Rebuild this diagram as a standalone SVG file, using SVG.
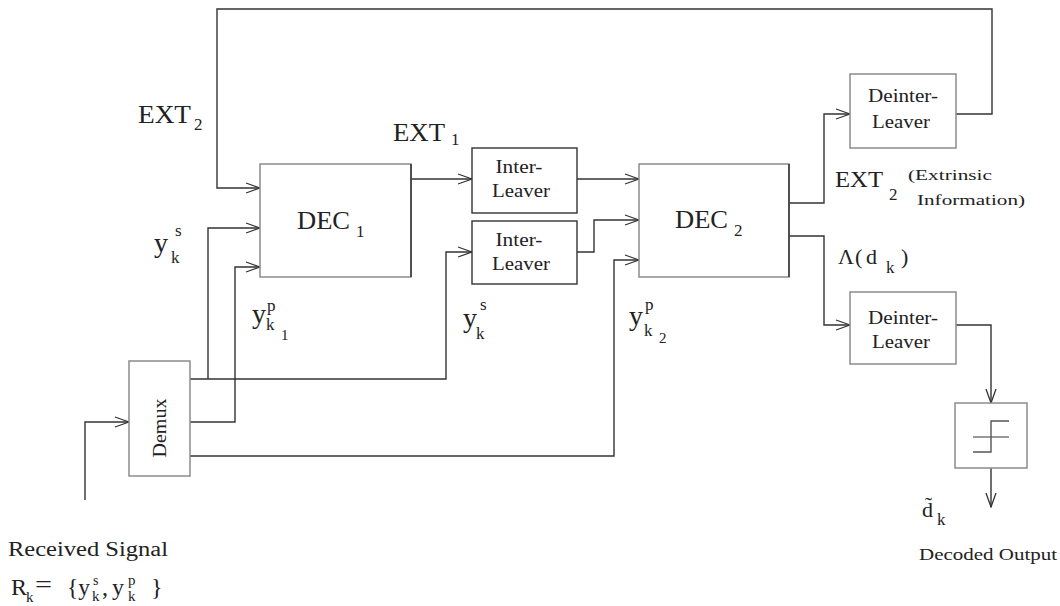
<svg xmlns="http://www.w3.org/2000/svg" width="1060" height="606" viewBox="0 0 1060 606">
<style>
text{font-family:"Liberation Serif","Times New Roman",serif;fill:#222}
.box{fill:#fff;stroke:#8c8c8c;stroke-width:1.5}
.dbox{fill:#fff;stroke:#333;stroke-width:1.4}
.edge{stroke:#333;stroke-width:1.5;fill:none}
.w{fill:none;stroke:#333;stroke-width:1.4}
.big{font-size:26px}
.mid{font-size:19px}
.sub{font-size:17px}
.small{font-size:15px}
</style>
<defs>
<marker id="arr" viewBox="0 0 16 12" refX="15" refY="6" markerWidth="16" markerHeight="12" markerUnits="userSpaceOnUse" orient="auto">
<path d="M1,1 L15,6 L1,11" fill="none" stroke="#333" stroke-width="1.3"/>
</marker>
</defs>
<rect width="1060" height="606" fill="#fff"/>

<g id="connectors">
<polyline class="w" points="956,114 992,114 992,9 217,9 217,188 260,188" marker-end="url(#arr)"/>
<polyline class="w" points="190,379 446,379 446,252 472,252" marker-end="url(#arr)"/>
<polyline class="w" points="208,379 208,228 260,228" marker-end="url(#arr)"/>
<polyline class="w" points="190,422 235,422 235,267 260,267" marker-end="url(#arr)"/>
<polyline class="w" points="190,456 614,456 614,260 639,260" marker-end="url(#arr)"/>
<polyline class="w" points="85,500 85,422 129,422" marker-end="url(#arr)"/>
<polyline class="w" points="411,179 472,179" marker-end="url(#arr)"/>
<polyline class="w" points="577,179 639,179" marker-end="url(#arr)"/>
<polyline class="w" points="577,252 594,252 594,220 639,220" marker-end="url(#arr)"/>
<polyline class="w" points="789,203 824,203 824,114 850,114" marker-end="url(#arr)"/>
<polyline class="w" points="789,236 824,236 824,325 850,325" marker-end="url(#arr)"/>
<polyline class="w" points="956,325 991,325 991,403" marker-end="url(#arr)"/>
<polyline class="w" points="991,468 991,507" marker-end="url(#arr)"/>
</g>

<g id="dec1">
<rect class="box" x="260" y="164" width="151" height="113"/>
<line class="edge" x1="411" y1="164" x2="411" y2="277"/>
<text class="big" x="297" y="229" textLength="53" lengthAdjust="spacingAndGlyphs">DEC</text>
<text class="sub" x="356" y="237">1</text>
</g>

<g id="dec2">
<rect class="box" x="639" y="164" width="150" height="113"/>
<line class="edge" x1="789" y1="164" x2="789" y2="277"/>
<text class="big" x="675" y="228" textLength="53" lengthAdjust="spacingAndGlyphs">DEC</text>
<text class="sub" x="734" y="236">2</text>
</g>

<g id="interleaver1">
<rect class="dbox" x="472" y="148" width="105" height="65"/>
<text class="mid" x="519" y="173" text-anchor="middle" textLength="47" lengthAdjust="spacingAndGlyphs">Inter-</text>
<text class="mid" x="521" y="197" text-anchor="middle" textLength="58" lengthAdjust="spacingAndGlyphs">Leaver</text>
</g>

<g id="interleaver2">
<rect class="dbox" x="472" y="221" width="105" height="63"/>
<text class="mid" x="519" y="246" text-anchor="middle" textLength="47" lengthAdjust="spacingAndGlyphs">Inter-</text>
<text class="mid" x="521" y="270" text-anchor="middle" textLength="58" lengthAdjust="spacingAndGlyphs">Leaver</text>
</g>

<g id="deinterleaver1">
<rect class="box" x="850" y="74" width="106" height="74"/>
<text class="mid" x="903" y="102" text-anchor="middle" textLength="70" lengthAdjust="spacingAndGlyphs">Deinter-</text>
<text class="mid" x="901" y="128" text-anchor="middle" textLength="58" lengthAdjust="spacingAndGlyphs">Leaver</text>
</g>

<g id="deinterleaver2">
<rect class="box" x="850" y="292" width="106" height="72"/>
<text class="mid" x="903" y="324" text-anchor="middle" textLength="70" lengthAdjust="spacingAndGlyphs">Deinter-</text>
<text class="mid" x="901" y="348" text-anchor="middle" textLength="58" lengthAdjust="spacingAndGlyphs">Leaver</text>
</g>

<g id="demux">
<rect class="box" x="129" y="361" width="61" height="115"/>
<text x="0" y="0" font-size="18" text-anchor="middle" textLength="59" lengthAdjust="spacingAndGlyphs" transform="translate(166,428) rotate(-90)">Demux</text>
</g>

<g id="decision">
<rect class="box" x="955" y="403" width="72" height="65"/>
<line x1="973" y1="437" x2="1009" y2="437" stroke="#777" stroke-width="1.4"/>
<polyline points="973,452 991,452 991,421 1009,421" fill="none" stroke="#555" stroke-width="1.4"/>
</g>

<g id="labels">
<text class="big" x="138" y="123" textLength="53" lengthAdjust="spacingAndGlyphs">EXT</text>
<text class="sub" x="194" y="130">2</text>

<text class="big" x="393" y="141" textLength="52" lengthAdjust="spacingAndGlyphs">EXT</text>
<text class="sub" x="451" y="145">1</text>

<text font-size="24" x="835" y="187" textLength="48" lengthAdjust="spacingAndGlyphs">EXT</text>
<text class="sub" x="889" y="200">2</text>
<text class="small" x="908" y="180" textLength="84" lengthAdjust="spacingAndGlyphs">(Extrinsic</text>
<text class="small" x="917" y="205" textLength="108" lengthAdjust="spacingAndGlyphs">Information)</text>

<text font-size="22" x="838" y="264">Λ</text>
<text font-size="22" x="855" y="264">(</text>
<text font-size="22" x="866" y="264">d</text>
<text class="sub" x="886" y="273">k</text>
<text font-size="22" x="901" y="264">)</text>

<text font-size="28" x="154" y="252">y</text>
<text class="sub" x="175" y="236">s</text>
<text class="sub" x="171" y="263">k</text>

<text font-size="28" x="252" y="323">y</text>
<text class="sub" x="267" y="311">p</text>
<text class="sub" x="266" y="330">k</text>
<text font-size="15" x="281" y="340">1</text>

<text font-size="28" x="463" y="327">y</text>
<text class="sub" x="480" y="310">s</text>
<text class="sub" x="476" y="339">k</text>

<text font-size="28" x="629" y="325">y</text>
<text class="sub" x="645" y="310">p</text>
<text class="sub" x="644" y="336">k</text>
<text font-size="15" x="659" y="343">2</text>

<text font-size="22" x="922" y="517">d̃</text>
<text class="sub" x="937" y="525">k</text>
<text font-size="17" x="919" y="560" textLength="138" lengthAdjust="spacingAndGlyphs">Decoded Output</text>

<text font-size="20" x="8" y="556" textLength="160" lengthAdjust="spacingAndGlyphs">Received Signal</text>
<text font-size="24" x="11" y="595">R</text>
<text font-size="15" x="26" y="602">k</text>
<text font-size="24" x="35" y="592" textLength="17" lengthAdjust="spacingAndGlyphs">=</text>
<text font-size="24" x="67" y="595" textLength="23" lengthAdjust="spacingAndGlyphs">{y</text>
<text font-size="14" x="93" y="585">s</text>
<text font-size="15" x="92" y="601">k</text>
<text font-size="24" x="102" y="595">,</text>
<text font-size="24" x="112" y="595">y</text>
<text font-size="15" x="128" y="585">p</text>
<text font-size="15" x="128" y="601">k</text>
<text font-size="24" x="151" y="595">}</text>
</g>
</svg>
